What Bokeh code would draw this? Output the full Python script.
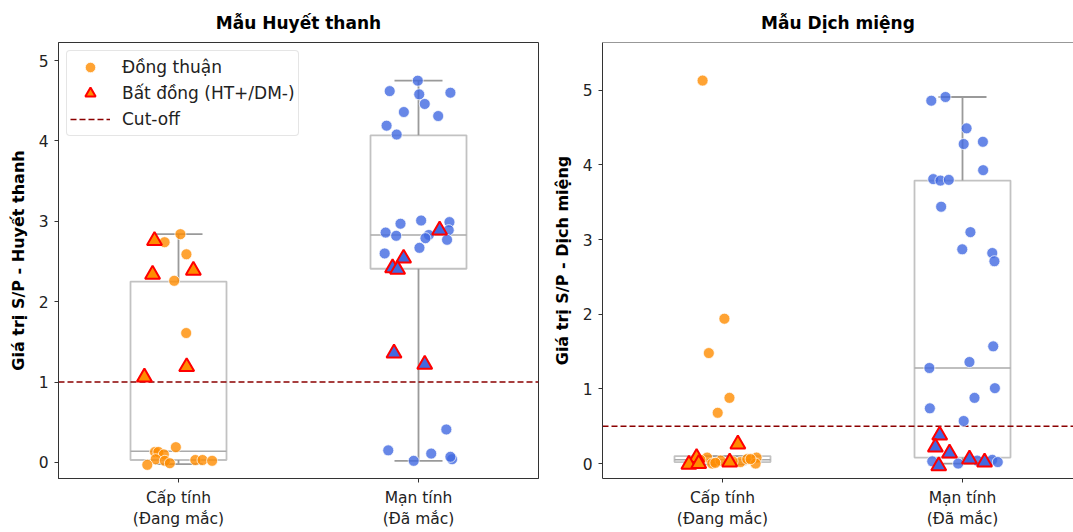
from bokeh.plotting import figure
from bokeh.layouts import row
from bokeh.models import Range1d, FixedTicker, Legend, LegendItem, ColumnDataSource, Span
from bokeh.embed import file_html
from bokeh.resources import INLINE

# ---------------- data ----------------
categories = ["Cấp tính\n(Đang mắc)", "Mạn tính\n(Đã mắc)"]
y_ticks = [0, 1, 2, 3, 4, 5]

# Huyết thanh (serum)
ht_acute_agree = [2.74, 2.84, 2.59, 2.26, 1.61, 0.19, 0.13, 0.13, 0.10, 0.04, 0.02, -0.01, -0.03, 0.03, 0.03, 0.02]
ht_acute_agree_jit = [-0.058, 0.008, 0.033, -0.018, 0.032, -0.011, -0.098, -0.084, -0.061, -0.095, -0.057, -0.036, -0.13, 0.07, 0.10, 0.14]
ht_acute_disc = [2.76, 2.34, 2.39, 1.19, 1.06]
ht_acute_disc_jit = [-0.10, -0.108, 0.062, 0.034, -0.142]
ht_chronic_agree = [4.75, 4.62, 4.58, 4.60, 4.46, 4.36, 4.31, 4.19, 4.08, 3.01, 2.97, 2.99, 2.86, 2.82, 2.89,
                    2.83, 2.79, 2.77, 2.67, 2.60, 0.41, 0.15, 0.11, 0.02, 0.04, 0.07]
ht_chronic_agree_jit = [-0.003, -0.12, 0.003, 0.133, 0.026, -0.061, 0.082, -0.133, -0.091, 0.011, -0.075, 0.129,
                        -0.137, -0.093, 0.126, 0.043, 0.029, 0.119, 0.004, -0.141, 0.116, -0.126, 0.053, -0.02,
                        0.14, 0.133]
ht_chronic_disc = [2.89, 2.54, 2.42, 2.40, 1.36, 1.22]
ht_chronic_disc_jit = [0.088, -0.062, -0.108, -0.087, -0.102, 0.026]
ht_box_lo = [-0.02, 0.02]
ht_box_q1 = [0.03, 2.41]
ht_box_med = [0.14, 2.83]
ht_box_q3 = [2.25, 4.07]
ht_box_hi = [2.84, 4.75]
ht_cutoff = 1.0

# Dịch miệng (oral fluid)
dm_acute_agree = [5.13, 1.94, 1.48, 0.88, 0.68, 0.08, 0.00, 0.04, 0.02, 0.06, 0.08, 0.00, 0.05, 0.03, 0.01, 0.06]
dm_acute_agree_jit = [-0.083, 0.008, -0.057, 0.029, -0.02, -0.064, -0.043, -0.008, 0.075, 0.103, 0.142, 0.138,
                      -0.092, 0.042, -0.03, 0.117]
dm_acute_disc = [0.26, 0.08, -0.01, 0.00, 0.02]
dm_acute_disc_jit = [0.064, -0.108, -0.14, -0.099, 0.03]
dm_chronic_agree = [4.86, 4.91, 4.49, 4.28, 4.31, 3.93, 3.81, 3.79, 3.80, 3.44, 3.10, 2.87, 2.82, 2.71, 1.57,
                    1.28, 1.36, 1.01, 0.88, 0.74, 0.57, 0.03, 0.00, 0.04, 0.05, 0.02]
dm_chronic_agree_jit = [-0.13, -0.071, 0.017, 0.005, 0.085, 0.086, -0.122, -0.092, -0.057, -0.089, 0.033, -0.001,
                        0.124, 0.133, 0.128, -0.138, 0.029, 0.135, 0.05, -0.136, 0.005, -0.126, -0.018, 0.061,
                        0.124, 0.147]
dm_chronic_disc = [0.38, 0.22, 0.14, 0.06, 0.02, -0.03]
dm_chronic_disc_jit = [-0.095, -0.113, -0.054, 0.029, 0.092, -0.099]
dm_box_lo = [-0.01, 0.0]
dm_box_q1 = [0.02, 0.08]
dm_box_med = [0.05, 1.28]
dm_box_q3 = [0.10, 3.79]
dm_box_hi = [0.10, 4.91]
dm_cutoff = 0.5

ORANGE = "#FF8C00"
BLUE = "#4169E1"
FONT = "DejaVu Sans"
TXT = "#222222"
SPINE = "#333333"


def build(title, ylabel, groups, box, cutoff, y_end, width, min_left, min_right, x_end,
          legend=False, title_offset=0, open_right=False):
    x_start = -0.5
    p = figure(width=width, height=532, x_range=Range1d(x_start, x_end), y_range=Range1d(-0.2, y_end),
               output_backend="svg", toolbar_location=None, title=title,
               min_border_left=min_left, min_border_right=min_right, min_border_top=42, min_border_bottom=54)
    p.title.align = "center"
    p.title.offset = title_offset
    p.title.text_font = FONT
    p.title.text_font_size = "17px"
    p.title.text_font_style = "bold"
    p.title.text_color = "#000000"
    p.title.standoff = 19
    p.xgrid.visible = False
    p.ygrid.visible = False
    if open_right:
        # panel is cut at the window's right edge: keep only top, left and bottom spines
        p.outline_line_color = None
        p.add_layout(Span(location=y_end, dimension="width", line_color=SPINE, line_width=1))
    else:
        p.outline_line_color = SPINE
        p.outline_line_alpha = 1.0
        p.outline_line_width = 1
    p.background_fill_color = "white"
    p.border_fill_color = "white"

    for ax in (p.xaxis, p.yaxis):
        ax.axis_line_color = SPINE
        ax.major_tick_line_color = SPINE
        ax.major_tick_out = 4
        ax.major_tick_in = 0
        ax.minor_tick_line_color = None
        ax.major_label_text_font = FONT
        ax.major_label_text_font_size = "15.5px"
        ax.major_label_text_color = TXT
        ax.major_label_standoff = 6
    p.xaxis.ticker = FixedTicker(ticks=[0, 1])
    p.xaxis.major_label_overrides = {0: categories[0], 1: categories[1]}
    p.yaxis.ticker = FixedTicker(ticks=y_ticks)
    p.yaxis.axis_label = ylabel
    p.yaxis.axis_label_text_font = FONT
    p.yaxis.axis_label_text_font_size = "16px"
    p.yaxis.axis_label_text_font_style = "bold"
    p.yaxis.axis_label_text_color = "#000000"
    p.yaxis.axis_label_standoff = 8

    lo, q1, med, q3, hi = box
    cx = [0, 1]
    bsrc = ColumnDataSource(dict(
        x=cx, left=[c - 0.2 for c in cx], right=[c + 0.2 for c in cx],
        capl=[c - 0.1 for c in cx], capr=[c + 0.1 for c in cx],
        lo=lo, q1=q1, med=med, q3=q3, hi=hi))
    p.quad(left="left", right="right", bottom="q1", top="q3", source=bsrc,
           fill_color=None, line_color="#c2c2c2", line_width=1.8)
    for a, b in (("q3", "hi"), ("q1", "lo")):
        p.segment(x0="x", y0=a, x1="x", y1=b, source=bsrc, line_color="#9a9a9a", line_width=1.8)
    for a in ("hi", "lo"):
        p.segment(x0="capl", y0=a, x1="capr", y1=a, source=bsrc, line_color="#9a9a9a", line_width=1.8)
    p.segment(x0="left", y0="med", x1="right", y1="med", source=bsrc, line_color="#aaaaaa", line_width=1.5)

    # cut-off line spanning the x-axis limits
    cut_r = p.line(x=[x_start, x_end], y=[cutoff, cutoff], line_color="#8B0000", line_width=1.6,
                   line_dash="6 3")

    colors = [ORANGE, BLUE]
    circ_r, tri_r = [], []
    for i, (agree, agree_j, disc, disc_j) in enumerate(groups):
        xs = [i + j for j in agree_j]
        r = p.scatter(x=xs, y=agree, marker="circle", size=11, fill_color=colors[i], fill_alpha=0.8,
                      line_color="white", line_width=0.8, line_alpha=0.9)
        circ_r.append(r)
    for i, (agree, agree_j, disc, disc_j) in enumerate(groups):
        xt = [i + j for j in disc_j]
        t = p.scatter(x=xt, y=disc, marker="triangle", size=15, fill_color=colors[i], fill_alpha=1.0,
                      line_color="#FF0000", line_width=2)
        tri_r.append(t)

    if legend:
        lg = Legend(items=[LegendItem(label="Đồng thuận", renderers=[circ_r[0]]),
                           LegendItem(label="Bất đồng (HT+/DM-)", renderers=[tri_r[0]]),
                           LegendItem(label="Cut-off", renderers=[cut_r])],
                    location="top_left")
        lg.label_text_font = FONT
        lg.label_text_font_size = "17px"
        lg.label_text_color = TXT
        lg.glyph_width = 40
        lg.glyph_height = 26
        lg.label_height = 26
        lg.spacing = 0
        lg.padding = 3
        lg.margin = 8
        lg.label_standoff = 12
        lg.border_line_color = "#cccccc"
        lg.border_line_width = 1
        lg.border_radius = 4
        lg.background_fill_alpha = 0.8
        p.add_layout(lg)
    return p


p1 = build("Mẫu Huyết thanh", "Giá trị S/P - Huyết thanh",
           [(ht_acute_agree, ht_acute_agree_jit, ht_acute_disc, ht_acute_disc_jit),
            (ht_chronic_agree, ht_chronic_agree_jit, ht_chronic_disc, ht_chronic_disc_jit)],
           (ht_box_lo, ht_box_q1, ht_box_med, ht_box_q3, ht_box_hi), ht_cutoff,
           5.225, 542, 58, 4, 1.5, legend=True, title_offset=-12)
p2 = build("Mẫu Dịch miệng", "Giá trị S/P - Dịch miệng",
           [(dm_acute_agree, dm_acute_agree_jit, dm_acute_disc, dm_acute_disc_jit),
            (dm_chronic_agree, dm_chronic_agree_jit, dm_chronic_disc, dm_chronic_disc_jit)],
           (dm_box_lo, dm_box_q1, dm_box_med, dm_box_q3, dm_box_hi), dm_cutoff,
           5.64, 531, 60, 0, -0.5 + 471 / 240, title_offset=0, open_right=True)

layout = row(p1, p2)
open("out.html", "w").write(file_html(layout, INLINE))
